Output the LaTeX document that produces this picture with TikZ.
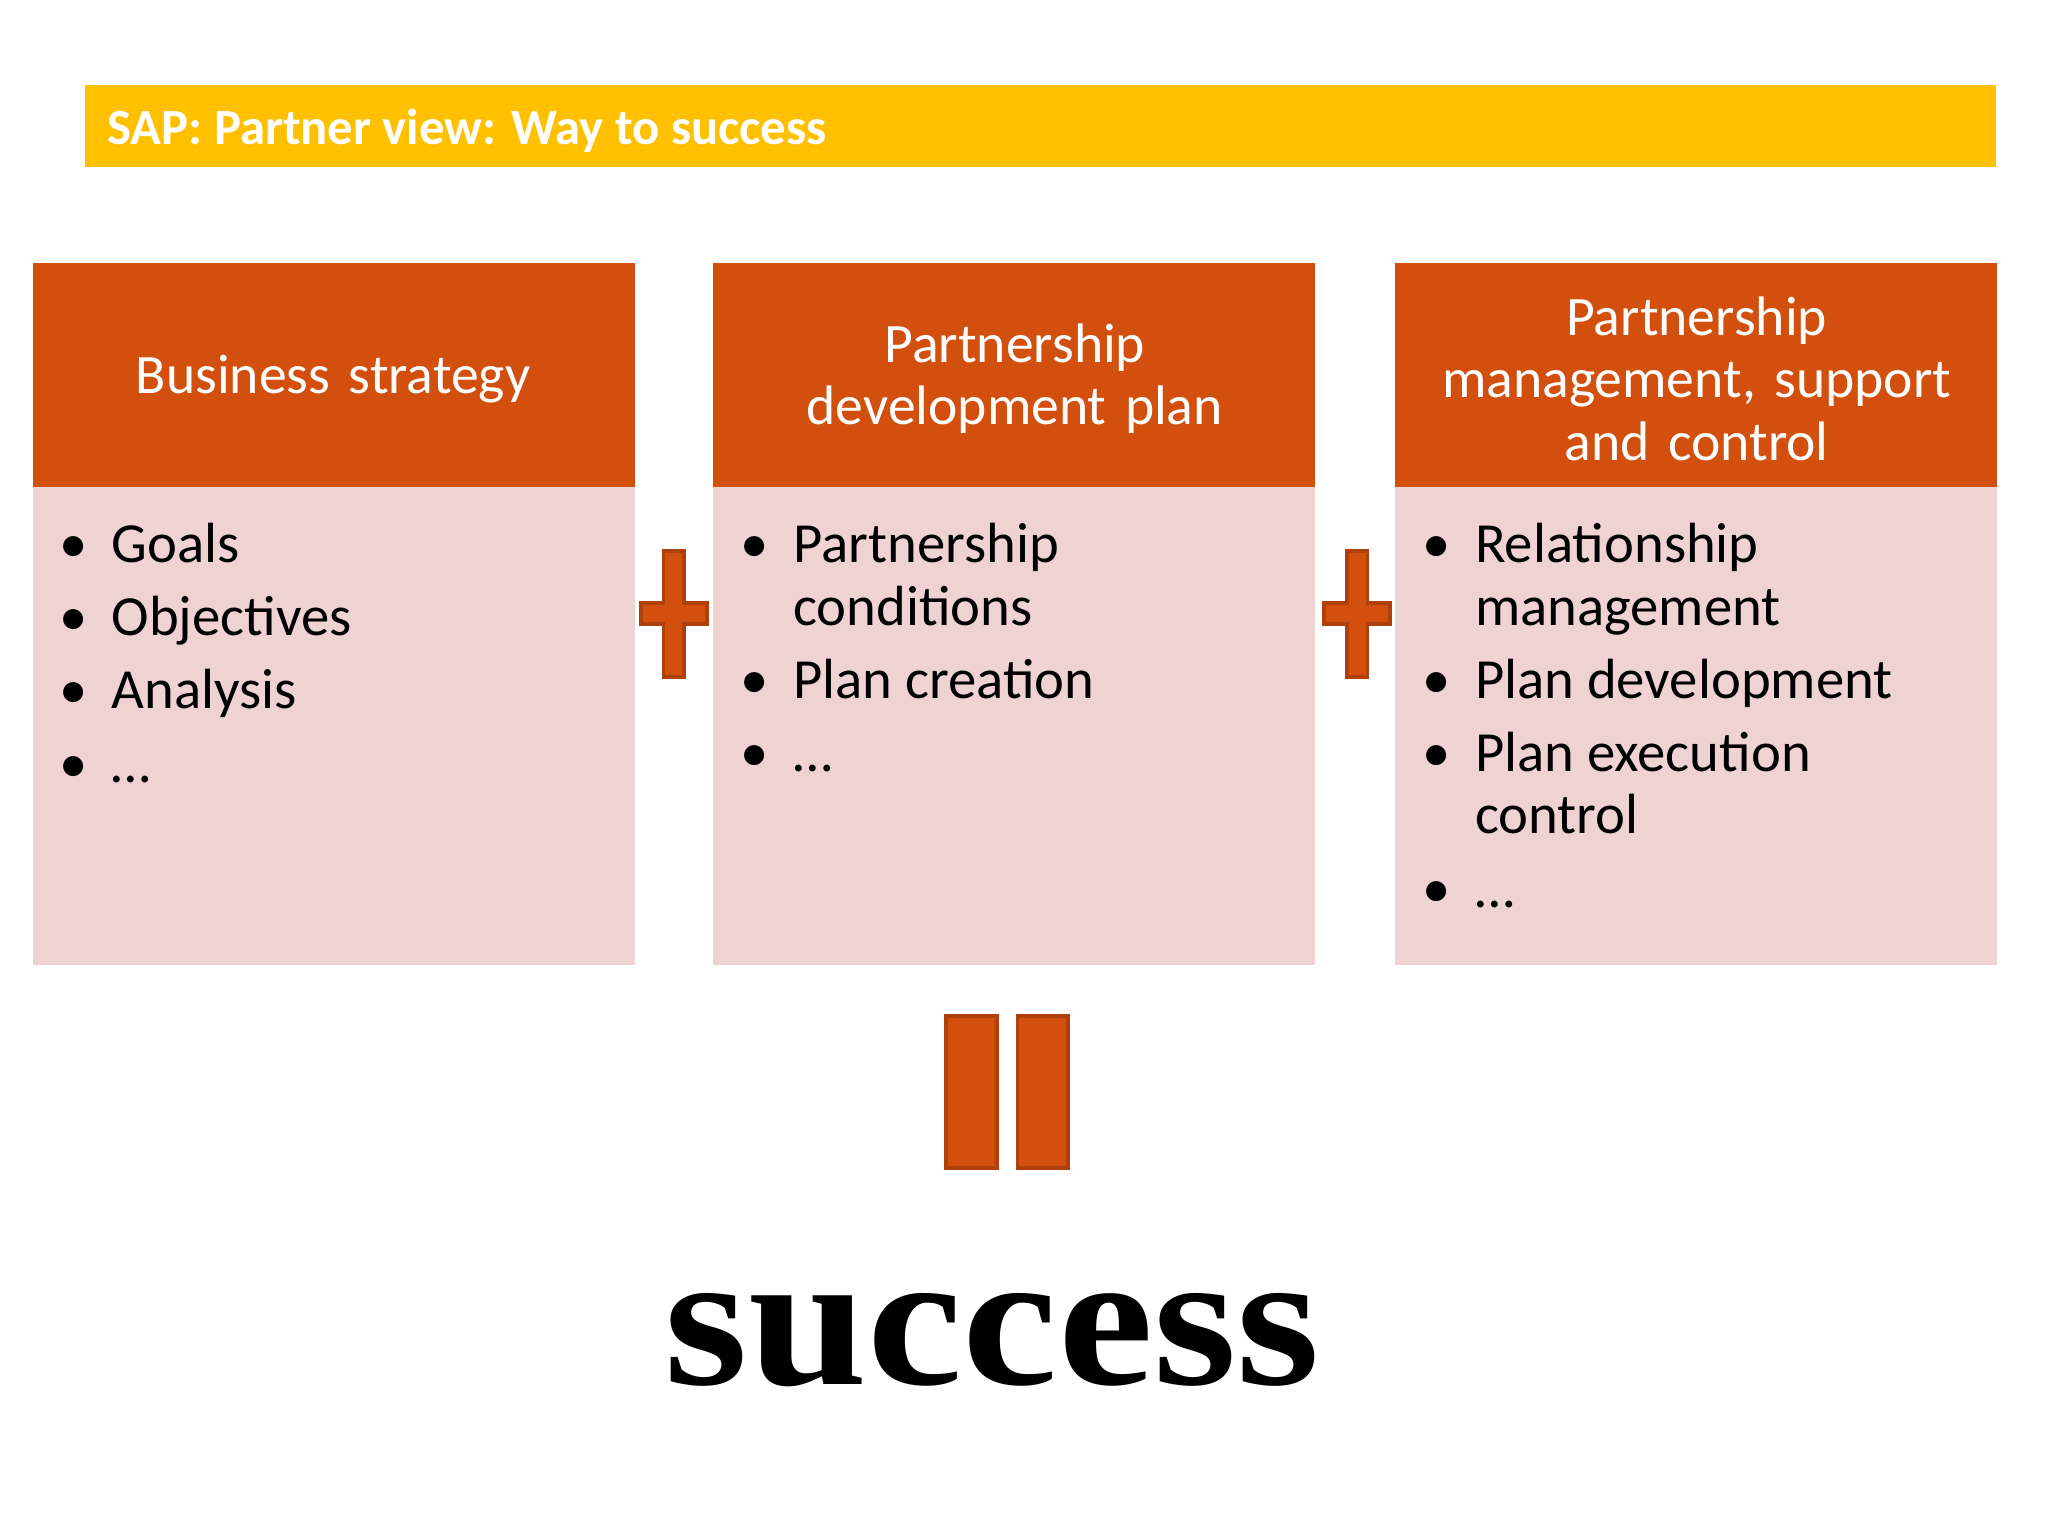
\documentclass[tikz,border=0pt]{standalone}
\usepackage{fontspec}
\setmainfont{Carlito}
\newfontfamily\succfont{Liberation Serif}
\begin{document}
\begin{tikzpicture}[x=0.5pt,y=-0.5pt,
  htxt/.style={text=white,font=\fontsize{21.3}{24}\selectfont,align=center,text width=220pt},
  btxt/.style={font=\fontsize{21.7}{26}\selectfont,anchor=mid west,inner sep=0},
  bul/.style={font=\fontsize{21.7}{26}\selectfont,anchor=mid,inner sep=0},
  sym/.style={fill=hdrc,draw=symb,line width=1.5pt}]
\definecolor{hdrc}{HTML}{D24F0E}
\definecolor{bdyc}{HTML}{EFD3D2}
\definecolor{symb}{HTML}{B0400A}
\definecolor{gold}{HTML}{FFC000}
\useasboundingbox (0,0) rectangle (1568,1176);
\fill[white] (0,0) rectangle (1568,1176);
\fill[gold] (65,65) rectangle (1528,128);
\node[anchor=mid west,text=white,font=\bfseries\fontsize{19.4}{22}\selectfont,inner sep=0] (title) at (82,106) {SAP: Partner view: Way to success};
% boxes
\foreach \x in {25,546,1068}{
  \fill[hdrc] (\x,201) rectangle ++(461,172);
  \fill[bdyc] (\x,373) rectangle ++(461,366);
}
\node[htxt] (h1) at (255,290) {Business strategy};
\node[htxt] (h2) at (777,290) {Partnership\\development plan};
\node[htxt] (h3) at (1299,290) {Partnership\\management, support\\and control};
% box 1
\foreach \y/\t/\k in {426/Goals/1,482/Objectives/2,538/Analysis/3,594/\dots/4}{
  \node[bul] (ba\k) at (56,\y) {\textbullet};
  \node[btxt] (ta\k) at (85,\y) {\t};
}
% box 2
\foreach \y/\k in {426/1,530/2,586/3}{\node[bul] (bb\k) at (578,\y) {\textbullet};}
\node[btxt] (tb1) at (607,426) {Partnership};
\node[btxt] (tb2) at (607,474) {conditions};
\node[btxt] (tb3) at (607,530) {Plan creation};
\node[btxt] (tb4) at (607,586) {\dots};
% box 3
\foreach \y/\k in {426/1,530/2,586/3,690/4}{\node[bul] (bc\k) at (1100,\y) {\textbullet};}
\node[btxt] (tc1) at (1129,426) {Relationship};
\node[btxt] (tc2) at (1129,474) {management};
\node[btxt] (tc3) at (1129,530) {Plan development};
\node[btxt] (tc4) at (1129,586) {Plan execution};
\node[btxt] (tc5) at (1129,633) {control};
\node[btxt] (tc6) at (1129,690) {\dots};
% plus signs
\foreach \cx in {516,1039}{
  \draw[sym] (\cx-8,422) -- (\cx+8,422) -- (\cx+8,462) -- (\cx+25,462) -- (\cx+25,478) -- (\cx+8,478) -- (\cx+8,518) -- (\cx-8,518) -- (\cx-8,478) -- (\cx-25,478) -- (\cx-25,462) -- (\cx-8,462) -- cycle;
}
% equals
\draw[sym] (724,778) rectangle (763,894);
\draw[sym] (779,778) rectangle (818,894);
\node[font=\succfont\bfseries\fontsize{74}{80}\selectfont,inner sep=0,anchor=base,xscale=1.11] (succ) at (760,1060) {success};
\end{tikzpicture}
\end{document}
